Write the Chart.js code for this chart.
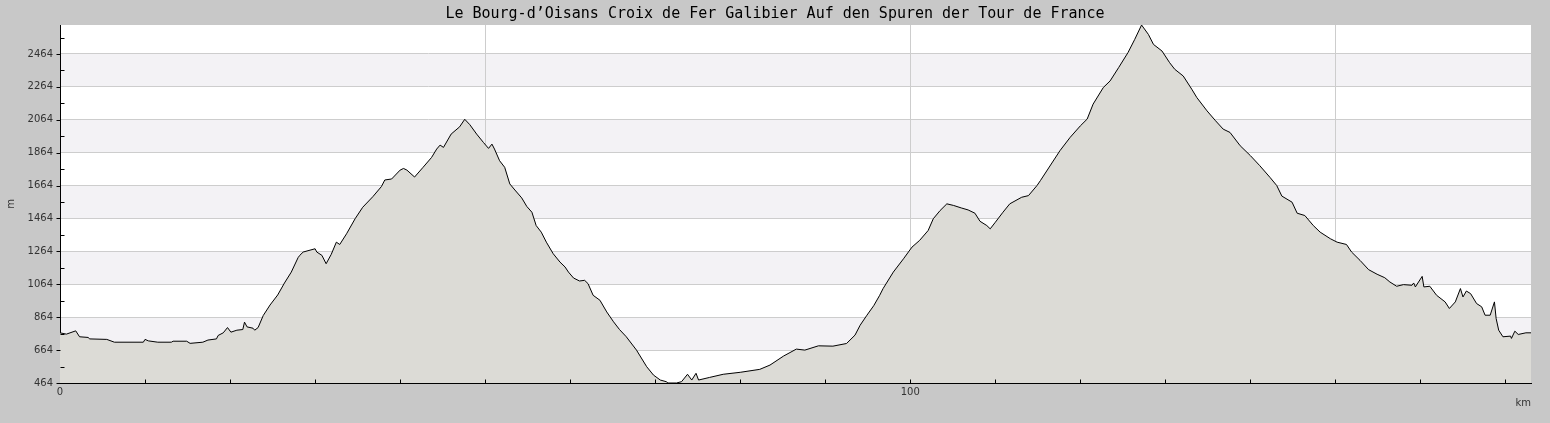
<!DOCTYPE html>
<html>
<head>
<meta charset="utf-8">
<script src="https://cdn.jsdelivr.net/npm/chart.js@4"></script>
<style>
  html, body { margin: 0; padding: 0; background: #c8c8c8; }
  #wrap { width: 1550px; height: 423px; }
</style>
</head>
<body>
<div id="wrap"><canvas id="profil" width="1550" height="423"></canvas></div>
<script>
// Profil Le Bourg-d'Oisans - Croix de Fer - Galibier
const distanceKm = [
  0, 0.75, 1.85, 2.3, 3.3, 3.5, 5.5, 6.4, 9.8, 10.0, 10.4, 11.5, 13.1, 13.3, 14.9, 15.3,
  16.8, 17.4, 18.4, 18.6, 19.2, 19.7, 20.1, 20.8, 21.5, 21.7, 22.0, 22.7, 22.9, 23.3, 23.9,
  24.7, 25.6, 26.4, 27.2, 28.0, 28.2, 28.6, 30.0, 30.2, 30.8, 31.3, 31.9, 32.5, 32.9, 33.7,
  34.7, 35.6, 36.8, 37.8, 38.2, 39.0, 40.0, 40.4, 40.8, 41.7, 42.7, 43.7, 44.3, 44.7, 45.1,
  46.0, 47.0, 47.6, 48.2, 49.0, 49.8, 50.4, 50.8, 51.1, 51.7, 52.3, 52.9, 53.5, 54.3, 54.9,
  55.5, 56.0, 56.6, 57.2, 58.0, 58.8, 59.4, 59.8, 60.4, 61.1, 61.7, 62.1, 62.7, 63.5, 64.3,
  65.1, 65.8, 66.6, 67.8, 69.0, 69.8, 70.6, 71.3, 71.5, 72.5, 73.1, 73.8, 74.3, 74.8, 75.1,
  76.4, 78.0, 80.0, 82.3, 83.5, 85.1, 86.6, 87.6, 89.2, 90.9, 92.5, 93.5, 94.1, 94.9, 95.7,
  96.4, 96.8, 98.0, 99.2, 100.2, 101.1, 102.1, 102.7, 103.5, 104.3, 105.1, 106.0, 106.8,
  107.6, 108.2, 109.0, 109.4, 110.0, 110.9, 111.7, 113.1, 113.9, 114.9, 115.3, 117.6, 118.8,
  120.0, 120.8, 121.5, 122.7, 123.5, 124.5, 125.6, 126.4, 127.2, 128.0, 128.6, 129.6, 130.5,
  131.1, 132.1, 133.1, 133.7, 134.9, 135.9, 136.8, 137.6, 138.8, 140.0, 141.1, 142.3, 143.1,
  143.7, 144.9, 145.5, 146.4, 147.4, 148.2, 149.4, 150.2, 151.3, 151.9, 152.9, 153.9, 154.9,
  155.8, 156.4, 157.2, 158.0, 159.0, 159.2, 159.4, 160.2, 160.4, 161.1, 161.9, 162.9, 163.4,
  164.1, 164.7, 165.0, 165.4, 165.9, 166.6, 167.2, 167.6, 168.2, 168.7, 168.9, 169.2, 169.7,
  170.6, 170.7, 171.1, 171.5, 172.4, 173.0
];
const elevationM = [
  769, 761, 781, 745, 741, 732, 729, 712, 712, 729, 720, 712, 712, 718, 718, 705,
  712, 725, 732, 753, 769, 801, 773, 785, 789, 834, 805, 797, 785, 801, 874,
  938, 999, 1072, 1138, 1226, 1240, 1260, 1280, 1260, 1240, 1189, 1246, 1320, 1306, 1371,
  1462, 1532, 1597, 1658, 1698, 1704, 1758, 1768, 1758, 1716, 1775, 1835, 1886, 1910, 1896,
  1977, 2021, 2067, 2034, 1977, 1926, 1890, 1916, 1886, 1815, 1775, 1674, 1637, 1589, 1537,
  1502, 1421, 1381, 1320, 1250, 1199, 1169, 1138, 1102, 1084, 1088, 1068, 997, 967, 896,
  836, 789, 745, 664, 563, 512, 482, 472, 464, 464, 472, 517, 482, 523, 482,
  498, 517, 529, 547, 573, 628, 670, 664, 690, 688, 704, 755, 815, 876, 934,
  997, 1038, 1138, 1219, 1290, 1331, 1391, 1462, 1512, 1553, 1543, 1528, 1516,
  1496, 1447, 1421, 1401, 1441, 1502, 1553, 1593, 1603, 1664, 1694, 1876, 1957,
  2027, 2068, 2159, 2260, 2300, 2381, 2472, 2553, 2640, 2583, 2522, 2482, 2411,
  2371, 2330, 2250, 2199, 2118, 2058, 2007, 1987, 1906, 1846, 1785, 1714, 1664,
  1600, 1563, 1496, 1482, 1421, 1381, 1341, 1320, 1306, 1260, 1209, 1153, 1125,
  1104, 1078, 1052, 1062, 1058, 1072, 1048, 1112, 1048, 1052, 997, 957, 917,
  957, 1038, 987, 1023, 1007, 947, 927, 876, 876, 957, 856, 785, 745,
  749, 735, 779, 759, 769, 769
];

// graduations
const yMajorTicks = [464, 664, 864, 1064, 1264, 1464, 1664, 1864, 2064, 2264, 2464];
const yMinorTicks = [564, 764, 964, 1164, 1364, 1564, 1764, 1964, 2164, 2364, 2564];
const xTicks = [0, 10, 20, 30, 40, 50, 60, 70, 80, 90, 100, 110, 120, 130, 140, 150, 160, 170];
const xLabels = [0, 100];
const xGridLines = [50, 100, 150];

const titre = 'Le Bourg-d’Oisans Croix de Fer Galibier Auf den Spuren der Tour de France';

const GRIS_FOND = '#c8c8c8';
const GRIS_GRILLE = '#cdcdcd';
const BANDE = '#f3f2f5';

// fond gris + zone blanche + bandes alternées
const fondPlugin = {
  id: 'fond',
  beforeDraw(chart) {
    const { ctx, chartArea: a, scales } = chart;
    ctx.save();
    ctx.fillStyle = GRIS_FOND;
    ctx.fillRect(0, 0, chart.width, chart.height);
    ctx.fillStyle = '#fff';
    ctx.fillRect(a.left, a.top, a.right - a.left, a.bottom - a.top);
    ctx.fillStyle = BANDE;
    for (let i = 1; i < yMajorTicks.length; i += 2) {
      const y1 = scales.y.getPixelForValue(yMajorTicks[i]);
      const y2 = scales.y.getPixelForValue(yMajorTicks[i] + 200);
      const top = Math.max(a.top, y2);
      ctx.fillRect(a.left, top, a.right - a.left, y1 - top);
    }
    ctx.restore();
  },
  afterDraw(chart) {
    const { ctx, chartArea: a, scales } = chart;
    ctx.save();
    // titre centré sur toute la largeur
    ctx.fillStyle = '#000';
    ctx.font = "15px 'DejaVu Sans Mono', monospace";
    ctx.textAlign = 'center';
    ctx.textBaseline = 'middle';
    ctx.fillText(titre, chart.width / 2, 14);

    // petits traits de graduation
    ctx.strokeStyle = '#000';
    ctx.lineWidth = 1;
    ctx.beginPath();
    const left = Math.round(a.left) + 0.5;
    yMajorTicks.forEach(v => {
      const y = Math.round(scales.y.getPixelForValue(v)) + 0.5;
      ctx.moveTo(left - 4, y); ctx.lineTo(left, y);
    });
    yMinorTicks.forEach(v => {
      const y = Math.round(scales.y.getPixelForValue(v)) + 0.5;
      if (y > a.top) { ctx.moveTo(left, y); ctx.lineTo(left + 4, y); }
    });
    const bottom = Math.round(a.bottom) + 0.5;
    xTicks.forEach(v => {
      if (v === 0) return;
      const x = Math.round(scales.x.getPixelForValue(v)) + 0.5;
      ctx.moveTo(x, bottom); ctx.lineTo(x, bottom - 4);
    });
    ctx.stroke();
    ctx.restore();
  }
};

const ctx = document.getElementById('profil').getContext('2d');
new Chart(ctx, {
  type: 'line',
  data: {
    datasets: [{
      data: distanceKm.map((km, i) => ({ x: km, y: elevationM[i] })),
      borderColor: '#000',
      borderWidth: 1,
      backgroundColor: '#dcdbd6',
      fill: 'start',
      pointRadius: 0,
      tension: 0
    }]
  },
  options: {
    responsive: false,
    animation: false,
    devicePixelRatio: 1,
    layout: { padding: { left: 0, right: 19, top: 25, bottom: 0 } },
    plugins: {
      legend: { display: false },
      tooltip: { enabled: false },
      title: { display: false }
    },
    scales: {
      x: {
        type: 'linear',
        min: 0,
        max: 173,
        afterBuildTicks: scale => { scale.ticks = xTicks.map(v => ({ value: v })); },
        afterFit: scale => { scale.height = 40; },
        ticks: {
          autoSkip: false,
          maxRotation: 0,
          padding: 3,
          color: '#333',
          font: { family: "'DejaVu Sans', sans-serif", size: 10 },
          callback: v => xLabels.includes(v) ? String(v) : ''
        },
        grid: {
          drawTicks: false,
          color: c => xGridLines.includes(c.tick && c.tick.value) ? GRIS_GRILLE : 'rgba(0,0,0,0)'
        },
        border: { display: true, color: '#000', width: 1 },
        title: {
          display: true,
          text: 'km',
          align: 'end',
          color: '#333',
          font: { family: "'DejaVu Sans', sans-serif", size: 10 },
          padding: { top: 3, bottom: 14 }
        }
      },
      y: {
        type: 'linear',
        min: 464,
        max: 2640,
        afterBuildTicks: scale => {
          scale.ticks = yMajorTicks.concat(yMinorTicks).sort((a, b) => a - b).map(v => ({ value: v }));
        },
        afterFit: scale => { scale.width = 60; },
        ticks: {
          autoSkip: false,
          padding: 7,
          color: '#333',
          font: { family: "'DejaVu Sans', sans-serif", size: 10 },
          callback: v => yMajorTicks.includes(v) ? String(v) : ''
        },
        grid: {
          drawTicks: false,
          color: c => yMajorTicks.includes(c.tick && c.tick.value) && c.tick.value !== 464 ? GRIS_GRILLE : 'rgba(0,0,0,0)'
        },
        border: { display: true, color: '#000', width: 1 },
        title: {
          display: true,
          text: 'm',
          color: '#333',
          font: { family: "'DejaVu Sans', sans-serif", size: 10 },
          padding: { top: 5, bottom: 0 }
        }
      }
    }
  },
  plugins: [fondPlugin]
});
</script>
</body>
</html>
